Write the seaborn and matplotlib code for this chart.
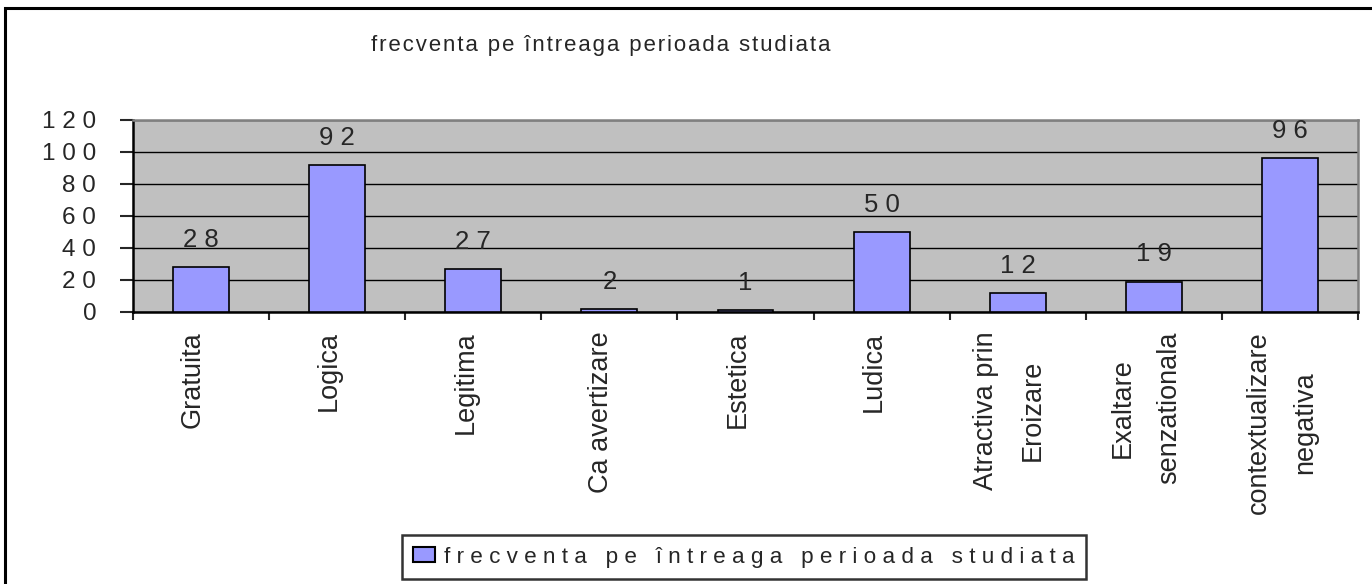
import matplotlib
matplotlib.use('Agg')
import matplotlib.pyplot as plt
import matplotlib.transforms as mtransforms
import pandas as pd
import seaborn as sns

# ---- data ----
categories = ['Gratuita', 'Logica', 'Legitima', 'Ca avertizare', 'Estetica',
              'Ludica', 'Atractiva prin\nEroizare', 'Exaltare\nsenzationala',
              'contextualizare\nnegativa']
values = [28, 92, 27, 2, 1, 50, 12, 19, 96]
y_ticks = [0, 20, 40, 60, 80, 100, 120]
series_name = 'frecventa pe întreaga perioada studiata'

df = pd.DataFrame({'categorie': categories, 'frecventa': values})

sns.set_style('white')
plt.rcParams['font.family'] = ['Liberation Sans', 'DejaVu Sans']

fig = plt.figure(figsize=(13.72, 5.84), dpi=100)
ax = fig.add_axes([133 / 1372, 1 - 312 / 584, (1358 - 133) / 1372, (312 - 120) / 584])
ax.set_facecolor('#C0C0C0')

sns.barplot(data=df, x='categorie', y='frecventa', color='#9999FF', saturation=1,
            width=0.41, edgecolor='black', linewidth=1.2, ax=ax, zorder=3)

# excel-like gridlines
ax.set_ylim(0, 120)
ax.set_xlim(-0.5, len(categories) - 0.5)
ax.set_yticks(y_ticks)
ax.set_yticklabels([' '.join(str(t)) for t in y_ticks], fontsize=17.5)
ax.yaxis.grid(True, color='black', linewidth=1, zorder=1)
ax.set_axisbelow(True)
ax.tick_params(axis='y', length=9.5, width=1.5, direction='out', pad=17, left=True)

# category labels, ticks between categories
ax.set_xticks(range(len(categories)))
ax.set_xticklabels(categories, rotation=90, fontsize=19.5, linespacing=2.05,
                   multialignment='center')
ax.tick_params(axis='x', which='major', length=0, pad=14)
ax.set_xticks([i - 0.5 for i in range(len(categories) + 1)], minor=True)
ax.tick_params(axis='x', which='minor', length=6, width=1.5, direction='out', bottom=True)
shift = mtransforms.ScaledTranslation(-8 / 100, 0, fig.dpi_scale_trans)
for lbl in ax.get_xticklabels():
    lbl.set_transform(lbl.get_transform() + shift)
ax.set_xlabel('')
ax.set_ylabel('')

for side in ['left', 'bottom']:
    ax.spines[side].set_color('black')
    ax.spines[side].set_linewidth(1.8)
for side in ['top', 'right']:
    ax.spines[side].set_color('#808080')
    ax.spines[side].set_linewidth(1.8)

# value labels above bars
for i, v in enumerate(values):
    ax.annotate(' '.join(str(v)), (i, v), xytext=(0, 11), textcoords='offset points',
                ha='center', va='bottom', fontsize=18.5)

# title
fig.text(601 / 1372, 1 - 45 / 584, '\u200a'.join(series_name), ha='center', va='center',
         fontsize=16)

# legend
handle = plt.Rectangle((0, 0), 1, 1, facecolor='#9999FF', edgecolor='black', linewidth=1.5)
leg = fig.legend([handle], [' '.join(series_name)], loc='center',
                 bbox_to_anchor=(744 / 1372, 1 - 557 / 584), fontsize=16.2, frameon=True,
                 fancybox=False, edgecolor='black', handlelength=1.0, handleheight=0.6,
                 handletextpad=0.4, borderpad=0.5, borderaxespad=0)
leg.get_frame().set_linewidth(1.8)

# outer chart border
fig.add_artist(plt.Rectangle((5 / 1372, -0.1), 1.2, 1 - 8 / 584 + 0.1,
                             transform=fig.transFigure, fill=False, edgecolor='black',
                             linewidth=2.2))

fig.savefig('out.png', dpi=100, facecolor='white')
